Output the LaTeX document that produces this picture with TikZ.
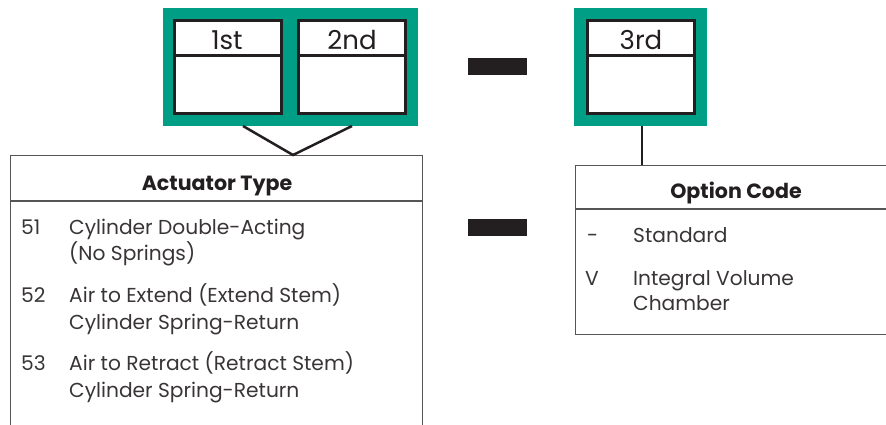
\documentclass[tikz,border=0pt]{standalone}
\usepackage{fontspec}
\setmainfont{Poppins}
\definecolor{teal1}{RGB}{0,158,133}
\definecolor{ink}{RGB}{35,31,32}
\definecolor{rule}{RGB}{85,85,85}
\begin{document}
\begin{tikzpicture}[x=1pt,y=-1pt,
  greenbox/.style={fill=teal1,draw=none,rectangle,inner sep=0pt},
  digitbox/.style={fill=white,draw=ink,line width=3pt,rectangle,inner sep=0pt,minimum width=107pt,minimum height=93pt},
  bigtxt/.style={font=\fontsize{26}{30}\selectfont,text=ink,anchor=base,inner sep=0pt},
  bodytxt/.style={font=\fontsize{20.2}{24}\selectfont,text=ink!90,anchor=base west,inner sep=0pt},
  headtxt/.style={font=\fontsize{20.6}{24}\selectfont\bfseries,text=ink,anchor=base,inner sep=0pt},
  dashbar/.style={fill=ink,draw=none,rectangle,inner sep=0pt,minimum width=59pt,minimum height=17pt},
  conn/.style={draw=ink,line width=2.5pt},
  frame/.style={draw=rule,line width=1.6pt}
]
\useasboundingbox (0,0) rectangle (886,425);
% green holders
\node[greenbox,minimum width=255pt,minimum height=118pt] (g12) at (290.5,67) {};
\node[greenbox,minimum width=133pt,minimum height=118pt] (g3) at (640.5,67) {};
% digit boxes
\node[digitbox] (b1) at (228,67.5) {};
\node[digitbox] (b2) at (352,67.5) {};
\node[digitbox] (b3) at (641,67.5) {};
\foreach \b in {b1,b2,b3}{\draw[draw=ink,line width=3pt] (\b.west |- 0,56) -- (\b.east |- 0,56);}
\node[bigtxt] (l1) at (227,50) {1st};
\node[bigtxt] (l2) at (352,50) {2nd};
\node[bigtxt] (l3) at (641,50) {3rd};
% dashes
\node[dashbar] (d1) at (497.5,66.5) {};
\node[dashbar] (d2) at (497.5,227) {};
% actuator box
\coordinate (atl) at (10.5,155.5);
\coordinate (atr) at (422.5,155.5);
\coordinate (abl) at (10.5,426);
\coordinate (abr) at (422.5,426);
\draw[frame] (abl) -- (atl) -- (atr) -- (abr);
\draw[frame] (10.5,201) -- (422.5,201);
% triangle connector
\coordinate (tl) at (243,126);
\coordinate (tr) at (352,126);
\coordinate (tapex) at (293,155);
\draw[conn,line join=miter] (tl) -- (tapex) -- (tr);
% option box
\coordinate (otl) at (575.5,165.5);
\coordinate (otr) at (887,165.5);
\coordinate (obl) at (575.5,334.5);
\coordinate (obr) at (887,334.5);
\draw[frame] (otr) -- (otl) -- (obl) -- (obr);
\draw[frame] (575.5,209) -- (887,209);
\coordinate (ctop) at (642,126);
\coordinate (cbot) at (642,165);
\draw[conn] (ctop) -- (cbot);
% actuator texts
\node[headtxt] (ah) at (217,190) {Actuator Type};
\node[bodytxt] (n51) at (21,234) {51};
\node[bodytxt] (t51a) at (69,234) {Cylinder Double-Acting};
\node[bodytxt] (t51b) at (69,260) {(No Springs)};
\node[bodytxt] (n52) at (21,302) {52};
\node[bodytxt] (t52a) at (69,302) {Air to Extend (Extend Stem)};
\node[bodytxt] (t52b) at (69,329) {Cylinder Spring-Return};
\node[bodytxt] (n53) at (21,370) {53};
\node[bodytxt] (t53a) at (69,370) {Air to Retract (Retract Stem)};
\node[bodytxt] (t53b) at (69,397) {Cylinder Spring-Return};
% option texts
\node[headtxt] (oh) at (736,198) {Option Code};
\node[bodytxt] (od) at (587,242) {-};
\node[bodytxt] (ot1) at (633,242) {Standard};
\node[bodytxt] (ov) at (585,285) {V};
\node[bodytxt] (ot2) at (633,285) {Integral Volume};
\node[bodytxt] (ot3) at (633,310) {Chamber};
\end{tikzpicture}
\end{document}
